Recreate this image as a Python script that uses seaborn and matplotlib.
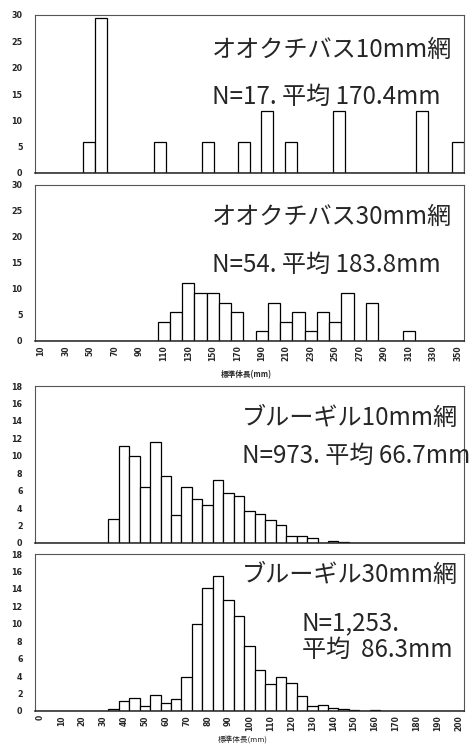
import matplotlib
matplotlib.use("Agg")
import matplotlib.pyplot as plt
import seaborn as sns
import pandas as pd

# オオクチバス (largemouth bass), 10 mm bins, % of individuals
bass10_len = list(range(10, 370, 10))
bass10_pct = [0, 0, 0, 0, 5.9, 29.4, 0, 0, 0, 0,
              5.9, 0, 0, 0, 5.9, 0, 0, 5.9, 0, 11.8,
              0, 5.9, 0, 0, 0, 11.8, 0, 0, 0, 0,
              0, 0, 11.8, 0, 0, 5.9]

bass30_len = list(range(10, 360, 10))
bass30_pct = [0, 0, 0, 0, 0, 0, 0, 0, 0, 0,
              3.7, 5.6, 11.1, 9.3, 9.3, 7.4, 5.6, 0, 1.9, 7.4,
              3.7, 5.6, 1.9, 5.6, 3.7, 9.3, 0, 7.4, 0, 0,
              1.9, 0, 0, 0, 0]

# ブルーギル (bluegill), 5 mm bins
blue_len = list(range(0, 205, 5))
blue10_pct = [0, 0, 0, 0, 0, 0, 0,
              2.75, 11.15, 10.0, 6.4, 11.6, 7.7, 3.2, 6.4, 5.0, 4.3,
              7.25, 5.7, 5.35, 3.7, 3.35, 2.6, 2.05, 0.85, 0.85, 0.55,
              0.0, 0.25, 0.1,
              0, 0, 0, 0, 0, 0, 0, 0, 0, 0, 0]
blue30_pct = [0, 0, 0, 0, 0, 0, 0,
              0.25, 1.1, 1.5, 0.6, 1.8, 0.95, 1.4, 3.9, 10.0, 14.05,
              15.5, 12.7, 10.9, 7.4, 4.75, 3.05, 3.95, 3.25, 1.7, 0.55,
              0.7, 0.35, 0.25, 0.1, 0.05, 0.1,
              0, 0, 0, 0, 0, 0, 0, 0]

panel_titles = ["オオクチバス10mm網", "オオクチバス30mm網", "ブルーギル10mm網", "ブルーギル30mm網"]
panel_stats = ["N=17. 平均 170.4mm", "N=54. 平均 183.8mm", "N=973. 平均 66.7mm", "N=1,253.", "平均  86.3mm"]
xlabel = "標準体長(mm)"

sns.set_style("white")
plt.rcParams['font.family'] = ['Noto Sans CJK JP', 'DejaVu Sans']

W, H = 472, 747
fig = plt.figure(figsize=(W / 100, H / 100), dpi=100)


def px_axes(left, right, top, bottom):
    return fig.add_axes([left / W, 1 - bottom / H, (right - left) / W, (bottom - top) / H])


def draw_panel(ax, lens, vals, ymax, ystep, label_every, label_start):
    df = pd.DataFrame({"len": [str(v) for v in lens], "pct": vals})
    sns.barplot(data=df, x="len", y="pct", color="white", edgecolor="black",
                linewidth=0.9, width=1.0, saturation=1, ax=ax)
    n = len(lens)
    ax.set_xlim(-0.5, n - 0.5)
    ax.set_ylim(0, ymax)
    ax.set_yticks(range(0, ymax + 1, ystep))
    ax.tick_params(axis="y", labelsize=5.8, length=0, pad=9)
    for t in ax.get_yticklabels():
        t.set_fontweight("bold")
        t.set_family("DejaVu Sans")
    # boundary tick marks on the category axis
    ax.set_xticks([i + 0.5 for i in range(n - 1)], minor=True)
    ax.tick_params(axis="x", which="minor", direction="in", length=2.5, width=0.8, color="#333333")
    if label_every:
        idx = list(range(label_start, n, label_every))
        ax.set_xticks(idx)
        ax.set_xticklabels([str(lens[i]) for i in idx], rotation=90, fontsize=5.5,
                           fontweight="bold", family="DejaVu Sans")
        ax.tick_params(axis="x", which="major", length=0, pad=3)
    else:
        ax.set_xticks([])
    ax.set_xlabel("")
    ax.set_ylabel("")
    for s in ax.spines.values():
        s.set_color("#555555")
        s.set_linewidth(0.8)
    ax.spines["bottom"].set_color("#222222")
    ax.spines["bottom"].set_linewidth(1.1)


ax1 = px_axes(35, 464, 15, 173)
draw_panel(ax1, bass10_len, bass10_pct, 30, 5, 0, 0)
ax2 = px_axes(35, 464, 185, 341)
draw_panel(ax2, bass30_len, bass30_pct, 30, 5, 2, 0)
ax3 = px_axes(35, 464, 386, 543)
draw_panel(ax3, blue_len, blue10_pct, 18, 2, 0, 0)
ax4 = px_axes(35, 464, 554, 711)
draw_panel(ax4, blue_len, blue30_pct, 18, 2, 2, 0)

big = 17.4
mid = 17.4
fig.text(212 / W, 1 - 50 / H, panel_titles[0], fontsize=big, va="center", ha="left")
fig.text(212 / W, 1 - 97 / H, panel_stats[0], fontsize=mid, va="center", ha="left")
fig.text(212 / W, 1 - 217 / H, panel_titles[1], fontsize=big, va="center", ha="left")
fig.text(212 / W, 1 - 265 / H, panel_stats[1], fontsize=mid, va="center", ha="left")
fig.text(242 / W, 1 - 418 / H, panel_titles[2], fontsize=big, va="center", ha="left")
fig.text(242 / W, 1 - 456 / H, panel_stats[2], fontsize=mid, va="center", ha="left")
fig.text(242 / W, 1 - 575 / H, panel_titles[3], fontsize=big, va="center", ha="left")
fig.text(302 / W, 1 - 623 / H, panel_stats[3], fontsize=mid, va="center", ha="left")
fig.text(302 / W, 1 - 650 / H, panel_stats[4], fontsize=mid, va="center", ha="left")

fig.text(246 / W, 1 - 375 / H, xlabel, fontsize=5.5, fontweight="bold", ha="center", va="center")
fig.text(243 / W, 1 - 741 / H, xlabel, fontsize=5.5, ha="center", va="center")

fig.savefig("out.png", dpi=100)
